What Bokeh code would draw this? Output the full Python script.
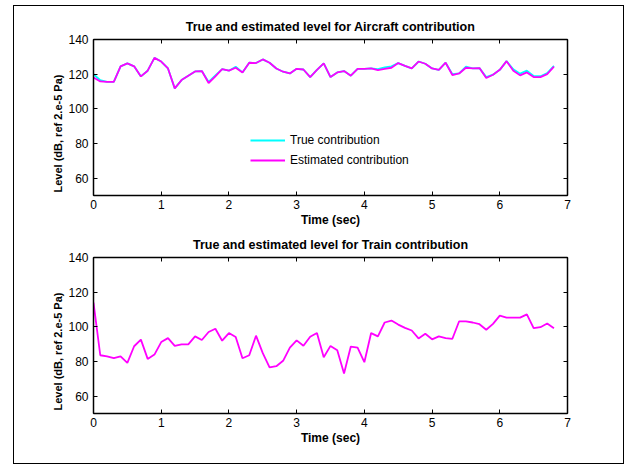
from bokeh.plotting import figure
from bokeh.models import Range1d, LinearAxis, FixedTicker, CustomJSTickFormatter, Title
from bokeh.layouts import column
from bokeh.embed import file_html
from bokeh.resources import INLINE

time_sec = [0.0, 0.1, 0.2, 0.3, 0.4, 0.5, 0.6, 0.7, 0.8, 0.9,
            1.0, 1.1, 1.2, 1.3, 1.4, 1.5, 1.6, 1.7, 1.8, 1.9,
            2.0, 2.1, 2.2, 2.3, 2.4, 2.5, 2.6, 2.7, 2.8, 2.9,
            3.0, 3.1, 3.2, 3.3, 3.4, 3.5, 3.6, 3.7, 3.8, 3.9,
            4.0, 4.1, 4.2, 4.3, 4.4, 4.5, 4.6, 4.7, 4.8, 4.9,
            5.0, 5.1, 5.2, 5.3, 5.4, 5.5, 5.6, 5.7, 5.8, 5.9,
            6.0, 6.1, 6.2, 6.3, 6.4, 6.5, 6.6, 6.7, 6.8]

aircraft_true = [120.0, 116.5, 115.6, 115.5, 124.5, 126.2, 124.5, 118.7, 122.0, 129.4,
                 127.3, 123.3, 111.8, 116.6, 119.1, 121.6, 121.8, 115.5, 119.3, 122.9,
                 122.0, 124.3, 121.0, 126.6, 126.4, 128.5, 126.6, 123.3, 121.4, 120.4,
                 123.1, 122.7, 118.3, 122.5, 126.2, 118.3, 121.0, 121.8, 119.1, 123.1,
                 123.1, 123.3, 122.9, 123.9, 124.5, 126.4, 124.8, 123.3, 127.3, 126.0,
                 123.3, 122.5, 126.6, 120.0, 120.4, 124.3, 123.3, 123.5, 118.3, 119.7,
                 122.5, 127.5, 122.8, 120.3, 122.0, 119.0, 118.8, 120.6, 124.8]

aircraft_est = [118.1, 115.8, 115.6, 115.5, 124.5, 126.2, 124.5, 118.7, 122.0, 129.4,
                127.3, 123.3, 111.8, 116.6, 119.1, 121.6, 121.8, 114.9, 118.7, 122.9,
                122.0, 123.7, 121.0, 126.6, 126.4, 128.5, 126.6, 123.3, 121.4, 120.4,
                123.1, 122.7, 118.3, 122.5, 126.2, 118.3, 121.0, 121.8, 119.1, 123.1,
                123.1, 123.3, 122.3, 123.1, 123.7, 126.4, 124.8, 123.3, 127.3, 126.0,
                123.3, 122.5, 126.6, 119.5, 120.4, 123.7, 123.3, 123.5, 117.8, 119.7,
                122.5, 127.5, 122.0, 119.3, 121.0, 118.3, 118.3, 120.0, 124.3]

train_est = [114.0, 83.6, 82.9, 81.9, 83.0, 79.2, 88.8, 92.6, 81.5, 84.0,
             91.2, 93.5, 89.0, 89.9, 89.9, 94.5, 92.4, 97.0, 98.9, 92.0,
             96.4, 94.1, 81.9, 83.6, 94.9, 84.8, 76.6, 77.3, 80.4, 88.0,
             92.2, 89.1, 94.3, 96.4, 82.5, 89.0, 86.5, 73.1, 88.6, 88.0,
             79.6, 96.4, 94.5, 102.5, 103.6, 101.3, 99.4, 97.9, 93.3, 96.0,
             92.8, 94.5, 93.5, 93.1, 103.2, 103.2, 102.5, 101.5, 98.3, 101.7,
             106.5, 105.3, 105.3, 105.3, 107.2, 99.2, 99.8, 101.9, 99.2]

x_ticks = [0, 1, 2, 3, 4, 5, 6, 7]
y_ticks = [60, 80, 100, 120, 140]
titles = ["True and estimated level for Aircraft contribution",
          "True and estimated level for Train contribution"]
x_label = "Time (sec)"
y_label = "Level (dB, ref 2.e-5 Pa)"

FONT = "Liberation Sans"


def make_fig(title, height, top, bottom):
    p = figure(width=609, height=height, output_backend="svg", toolbar_location=None,
               x_range=Range1d(0, 7), y_range=Range1d(50, 140),
               min_border_left=79, min_border_right=56,
               min_border_top=top, min_border_bottom=bottom,
               title=title)
    p.title.align = "center"
    p.title.text_font = FONT
    p.title.text_font_size = "12.5px"
    p.title.text_font_style = "bold"
    p.title.text_color = "black"
    p.title.standoff = 12
    p.grid.visible = False
    p.outline_line_color = "black"
    p.background_fill_color = "white"
    p.border_fill_color = "white"

    for ax in (p.xaxis[0], p.yaxis[0]):
        ax.major_tick_in = 4
        ax.major_tick_out = 0
        ax.minor_tick_line_color = None
        ax.axis_line_width = 1.5
        ax.major_tick_line_width = 1
        ax.major_label_text_font = FONT
        ax.major_label_text_font_size = "12px"
        ax.major_label_text_color = "black"
        ax.axis_label_text_font = FONT
        ax.axis_label_text_font_size = "12px"
        ax.axis_label_text_font_style = "bold"
        ax.axis_label_text_color = "black"
    p.xaxis[0].ticker = FixedTicker(ticks=x_ticks)
    p.yaxis[0].ticker = FixedTicker(ticks=y_ticks)
    p.xaxis[0].axis_label = x_label
    p.xaxis[0].major_label_standoff = 4
    p.xaxis[0].axis_label_standoff = 1
    p.yaxis[0].major_label_standoff = 5

    ylab = Title(text=y_label, align="left", offset=3, standoff=4,
                 text_font=FONT, text_font_size="11px", text_font_style="bold",
                 text_color="black")
    p.add_layout(ylab, "left")

    blank = CustomJSTickFormatter(code="return ''")
    top_ax = LinearAxis(ticker=FixedTicker(ticks=x_ticks), formatter=blank,
                        major_tick_in=4, major_tick_out=0, minor_tick_line_color=None,
                        major_label_standoff=0, major_label_text_font_size="0px",
                        axis_line_width=1.5)
    right_ax = LinearAxis(ticker=FixedTicker(ticks=y_ticks), formatter=blank,
                          major_tick_in=4, major_tick_out=0, minor_tick_line_color=None,
                          major_label_standoff=0, major_label_text_font_size="0px",
                          axis_line_width=1.5)
    p.add_layout(top_ax, "above")
    p.add_layout(right_ax, "right")
    return p


p1 = make_fig(titles[0], 223, 33, 33)
p1.line(time_sec, aircraft_true, line_color="#00FFFF", line_width=1.8,
        legend_label="True contribution")
p1.line(time_sec, aircraft_est, line_color="#FF00FF", line_width=1.8,
        legend_label="Estimated contribution")
lg = p1.legend[0]
lg.location = (157, 27)
lg.background_fill_alpha = 0
lg.border_line_color = None
lg.padding = 5
lg.spacing = 4
lg.glyph_width = 35
lg.glyph_height = 16
lg.label_height = 16
lg.label_standoff = 5
lg.label_text_font = FONT
lg.label_text_font_size = "12px"
lg.label_text_color = "black"
lg.margin = 0

p2 = make_fig(titles[1], 234, 28, 50)
p2.line(time_sec, train_est, line_color="#FF00FF", line_width=1.8)

layout = column(p1, p2, margin=(5, 0, 0, 13),
                styles={"border": "1px solid black", "background-color": "white"})

html = file_html(layout, INLINE)
open("out.html", "w").write(html)
